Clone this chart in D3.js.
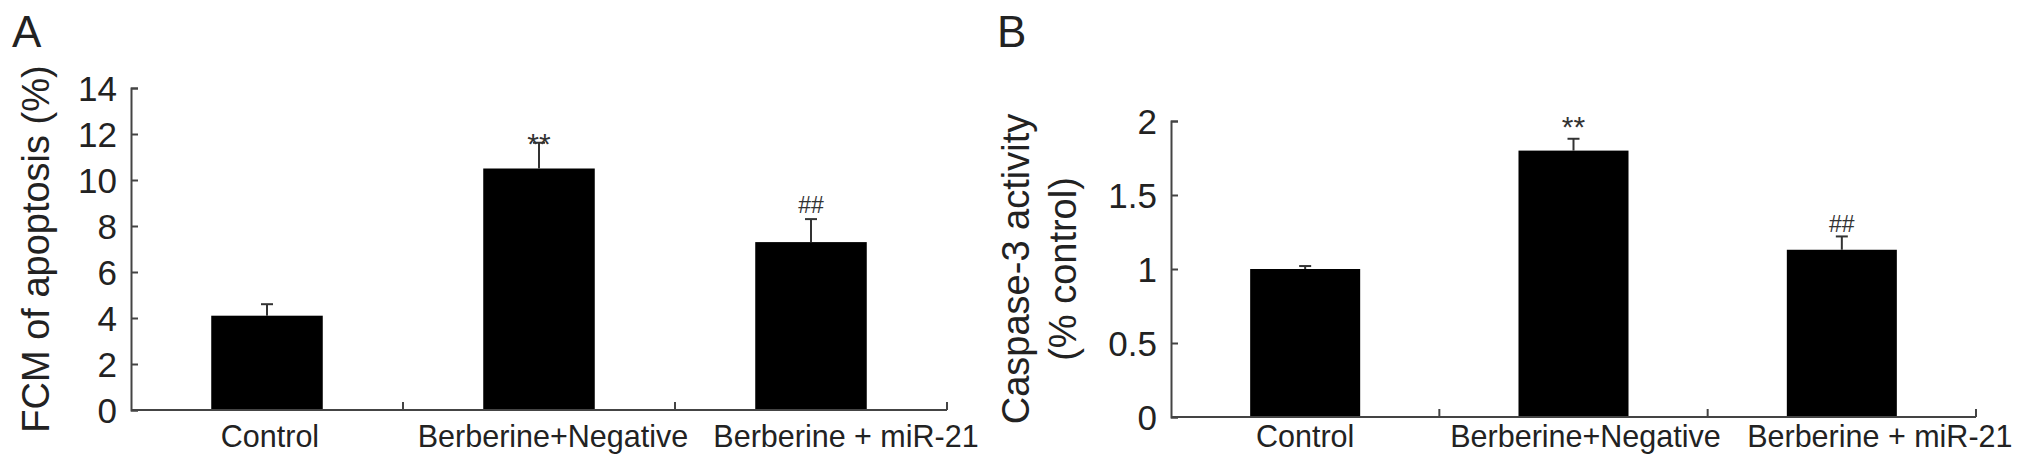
<!DOCTYPE html>
<html>
<head>
<meta charset="utf-8">
<script src="https://cdn.jsdelivr.net/npm/d3@7"></script>
<style>
  html, body { margin: 0; padding: 0; background: #fff; }
  svg text { font-family: "Liberation Sans", Arial, sans-serif; fill: #222; }
</style>
</head>
<body>
<svg id="chart" width="2031" height="474"></svg>
<script>
    // data
    var categories = ["Control", "Berberine+Negative", "Berberine + miR-21"];

    var apoptosisMean = [4.1, 10.5, 7.3];
    var apoptosisErr = [0.5, 1.12, 1.0];
    var apoptosisTicks = [0, 2, 4, 6, 8, 10, 12, 14];

    var caspaseMean = [1.0, 1.8, 1.13];
    var caspaseErr = [0.02, 0.08, 0.09];
    var caspaseTicks = [0, 0.5, 1, 1.5, 2];

    var marks = ["", "**", "##"];

    var svg = d3.select("#chart");

    var panels = [
      {
        letter: "A", letterX: 12,
        x0: 131, x1: 947, y0: 410, y1: 88, max: 14,
        mean: apoptosisMean, err: apoptosisErr, ticks: apoptosisTicks,
        label: ["FCM of apoptosis (%)"], labelX: [49],
        labelShift: [3, 14, 35],
        markDy: [0, 11, -6]
      },
      {
        letter: "B", letterX: 997,
        x0: 1171, x1: 1976, y0: 417, y1: 121, max: 2,
        mean: caspaseMean, err: caspaseErr, ticks: caspaseTicks,
        label: ["Caspase-3 activity", "(% control)"], labelX: [1029, 1076],
        labelShift: [0, 12, 38],
        markDy: [0, -2, -4]
      }
    ];

    function drawPanel(p) {
      var g = svg.append("g");

      var x = d3.scaleBand()
        .domain(categories)
        .range([p.x0, p.x1])
        .paddingInner(0.59)
        .paddingOuter(0.295);

      var y = d3.scaleLinear()
        .domain([0, p.max])
        .range([p.y0, p.y1]);

      // bars
      g.selectAll("rect.bar")
        .data(categories)
        .enter().append("rect")
        .attr("class", "bar")
        .attr("x", function(d) { return x(d); })
        .attr("y", function(d, i) { return y(p.mean[i]); })
        .attr("width", x.bandwidth())
        .attr("height", function(d, i) { return y(0) - y(p.mean[i]); })
        .attr("fill", "#000");

      // error bars (upper only)
      var eb = g.selectAll("g.err")
        .data(categories)
        .enter().append("g")
        .attr("class", "err")
        .attr("stroke", "#333")
        .attr("stroke-width", 2);

      eb.append("line")
        .attr("x1", function(d) { return x(d) + x.bandwidth() / 2; })
        .attr("x2", function(d) { return x(d) + x.bandwidth() / 2; })
        .attr("y1", function(d, i) { return y(p.mean[i]); })
        .attr("y2", function(d, i) { return y(p.mean[i] + p.err[i]); });

      eb.append("line")
        .attr("x1", function(d) { return x(d) + x.bandwidth() / 2 - 6; })
        .attr("x2", function(d) { return x(d) + x.bandwidth() / 2 + 6; })
        .attr("y1", function(d, i) { return y(p.mean[i] + p.err[i]); })
        .attr("y2", function(d, i) { return y(p.mean[i] + p.err[i]); });

      // significance marks
      g.selectAll("text.mark")
        .data(categories)
        .enter().append("text")
        .attr("class", "mark")
        .attr("x", function(d) { return x(d) + x.bandwidth() / 2; })
        .attr("y", function(d, i) { return y(p.mean[i] + p.err[i]) + p.markDy[i]; })
        .attr("text-anchor", "middle")
        .style("font-size", function(d, i) { return marks[i] === "**" ? "30px" : "23px"; })
        .style("fill", "#333")
        .text(function(d, i) { return marks[i]; });

      // y axis, ticks pointing inwards
      var yAxis = d3.axisLeft(y)
        .tickValues(p.ticks)
        .tickSizeInner(-7)
        .tickSizeOuter(-7)
        .tickPadding(14)
        .tickFormat(d3.format("~g"));

      var ya = g.append("g")
        .attr("transform", "translate(" + p.x0 + ",0)")
        .call(yAxis);
      ya.selectAll("path, line").attr("stroke", "#444").attr("stroke-width", 2);
      ya.selectAll("text")
        .attr("dy", "0.36em")
        .style("font-size", "35px")
        .style("font-family", "'Liberation Sans', Arial, sans-serif")
        .attr("fill", "#222");

      // x axis line with ticks between the groups
      g.append("line")
        .attr("x1", p.x0).attr("x2", p.x1)
        .attr("y1", y(0)).attr("y2", y(0))
        .attr("stroke", "#444").attr("stroke-width", 2);

      var bounds = d3.range(1, categories.length + 1).map(function(i) {
        return p.x0 + i * x.step();
      });
      g.selectAll("line.xtick")
        .data(bounds)
        .enter().append("line")
        .attr("class", "xtick")
        .attr("x1", function(d) { return d; }).attr("x2", function(d) { return d; })
        .attr("y1", y(0)).attr("y2", y(0) - 8)
        .attr("stroke", "#444").attr("stroke-width", 2);

      // category labels
      g.selectAll("text.cat")
        .data(categories)
        .enter().append("text")
        .attr("class", "cat")
        .attr("x", function(d, i) { return x(d) + x.bandwidth() / 2 + p.labelShift[i]; })
        .attr("y", 447)
        .attr("text-anchor", "middle")
        .style("font-size", "30.5px")
        .text(function(d) { return d; });

      // y label
      var cy = (p.y0 + p.y1) / 2;
      p.label.forEach(function(t, i) {
        g.append("text")
          .attr("transform", "translate(" + p.labelX[i] + "," + cy + ") rotate(-90)")
          .attr("text-anchor", "middle")
          .style("font-size", "38px")
          .text(t);
      });

      // panel letter
      g.append("text")
        .attr("x", p.letterX)
        .attr("y", 47)
        .style("font-size", "44px")
        .text(p.letter);
    }

    panels.forEach(drawPanel);
</script>
</body>
</html>
